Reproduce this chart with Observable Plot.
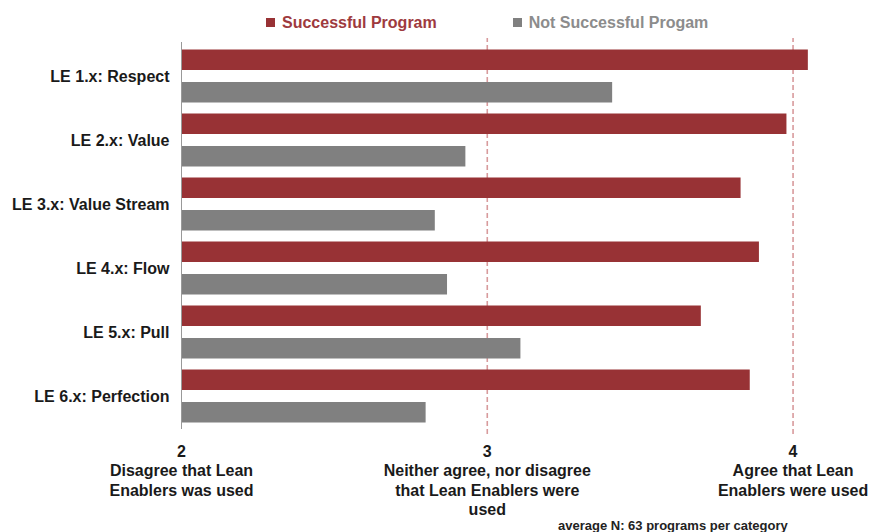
<!DOCTYPE html>
<html>
<head>
<meta charset="utf-8">
<script src="https://cdn.jsdelivr.net/npm/d3@7"></script>
<script src="https://cdn.jsdelivr.net/npm/@observablehq/plot@0.6"></script>
<style>
  html, body { margin: 0; padding: 0; background: #fff; }
  body { width: 872px; height: 532px; overflow: hidden; font-family: "Liberation Sans", Arial, Helvetica, sans-serif; }
  #legend { height: 32px; padding-top: 6px; line-height: 32px; padding-left: 266px; font-size: 16px; font-weight: bold; white-space: nowrap; }
  #legend span.item { display: inline-flex; align-items: center; }
  #legend span.sw { display: inline-block; width: 9px; height: 9px; margin-right: 7px; }
  #caption { height: 12px; line-height: 12px; padding-left: 558px; font-size: 13px; font-weight: bold; color: #222; white-space: nowrap; }
  #chart svg { display: block; }
</style>
</head>
<body>
<div id="legend"></div>
<div id="chart"></div>
<div id="caption">average N: 63 programs per category</div>
<script>
const categories = ["LE 1.x: Respect", "LE 2.x: Value", "LE 3.x: Value Stream", "LE 4.x: Flow", "LE 5.x: Pull", "LE 6.x: Perfection"];
const successful = [4.05, 3.98, 3.83, 3.89, 3.70, 3.86];
const notSuccessful = [3.41, 2.93, 2.83, 2.87, 3.11, 2.80];
const seriesNames = ["Successful Program", "Not Successful Progam"];
const seriesColors = ["#983235", "#808080"];
const legendTextColors = ["#9e3a3e", "#8c8c8c"];
const tickValues = [2, 3, 4];
const tickLabels = [
  "2\nDisagree that Lean\nEnablers was used",
  "3\nNeither agree, nor disagree\nthat Lean Enablers were\nused",
  "4\nAgree that Lean\nEnablers were used"
];
const gridValues = [3, 4];

// legend
const legend = document.getElementById("legend");
seriesNames.forEach((name, i) => {
  const item = document.createElement("span");
  item.className = "item";
  if (i > 0) item.style.marginLeft = "76px";
  const sw = document.createElement("span");
  sw.className = "sw";
  sw.style.background = seriesColors[i];
  const t = document.createElement("span");
  t.textContent = name;
  t.style.color = legendTextColors[i];
  item.appendChild(sw); item.appendChild(t);
  legend.appendChild(item);
});

const rowsS = categories.map((c, i) => ({category: c, value: successful[i]}));
const rowsN = categories.map((c, i) => ({category: c, value: notSuccessful[i]}));
const ticks = tickValues.map((v, i) => ({x: v, label: tickLabels[i]}));
const base = tickValues[0];

const chart = Plot.plot({
  width: 872,
  height: 482,
  marginLeft: 181,
  marginRight: 3,
  marginTop: 4,
  marginBottom: 91,
  style: {fontFamily: "'Liberation Sans', Arial, Helvetica, sans-serif", fontSize: "16px", fontWeight: "bold", color: "#1a1a1a", background: "#fff"},
  x: {domain: [2, 4.25], axis: null},
  y: {domain: categories, padding: 0, label: null, tickSize: 0, tickPadding: 12},
  marks: [
    Plot.ruleX(gridValues, {stroke: "#d89a9c", strokeWidth: 1.6, strokeDasharray: "5,3", insetTop: -5, insetBottom: -5}),
    Plot.barX(rowsS, {y: "category", x1: () => base, x2: "value", fill: seriesColors[0], insetTop: 5.5, insetBottom: 38}),
    Plot.barX(rowsN, {y: "category", x1: () => base, x2: "value", fill: seriesColors[1], insetTop: 38, insetBottom: 5.5}),
    Plot.ruleX([base], {stroke: "#999", strokeWidth: 1}),
    Plot.text(ticks, {x: "x", text: "label", frameAnchor: "bottom", lineAnchor: "top", dy: 14, lineHeight: 1.2, fontSize: 16, fontWeight: "bold", fill: "#1a1a1a", textAnchor: "middle"})
  ]
});
document.getElementById("chart").appendChild(chart);
</script>
</body>
</html>
